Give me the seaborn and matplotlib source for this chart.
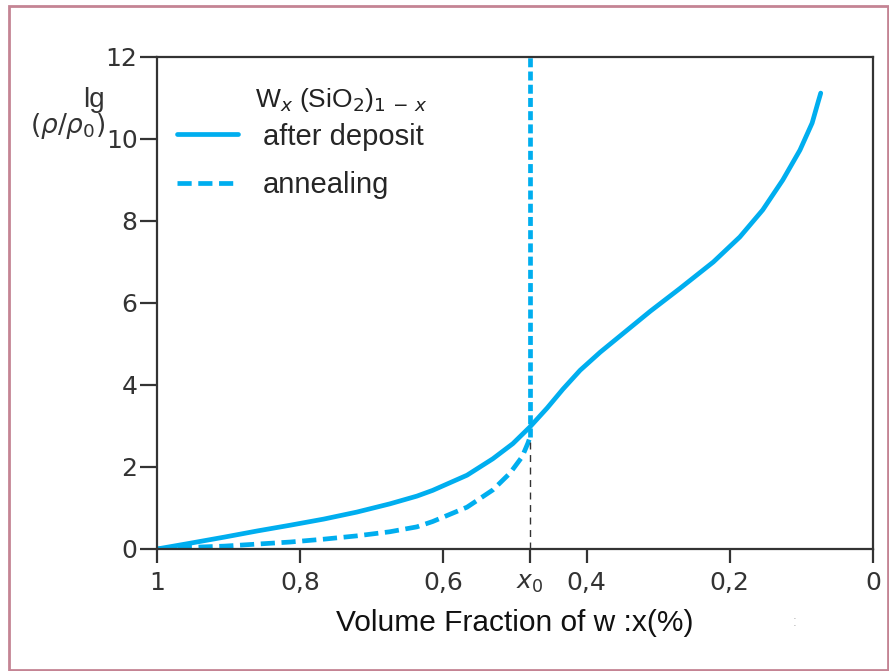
import numpy as np
import pandas as pd
import matplotlib
matplotlib.use("Agg")
import matplotlib.pyplot as plt
from matplotlib.patches import Rectangle
from matplotlib.lines import Line2D
import seaborn as sns

# ---- data ----
x_deposit = [1.0, 0.954, 0.906, 0.860, 0.814, 0.767, 0.721, 0.675, 0.637, 0.615, 0.567,
             0.531, 0.503, 0.479, 0.455, 0.433, 0.409, 0.381, 0.353, 0.325, 0.311,
             0.270, 0.223, 0.186, 0.154, 0.126, 0.102, 0.085, 0.077, 0.073]
y_deposit = [0.0, 0.14, 0.29, 0.44, 0.58, 0.73, 0.90, 1.10, 1.29, 1.43, 1.80,
             2.20, 2.57, 2.98, 3.44, 3.90, 4.36, 4.80, 5.20, 5.60, 5.80,
             6.35, 7.00, 7.61, 8.27, 9.00, 9.73, 10.39, 10.88, 11.12]
x_anneal = [1.0, 0.954, 0.906, 0.860, 0.814, 0.767, 0.721, 0.675, 0.637, 0.615, 0.567,
            0.531, 0.507, 0.490, 0.482, 0.479]
y_anneal = [0.0, 0.04, 0.07, 0.12, 0.17, 0.24, 0.32, 0.42, 0.54, 0.67, 1.02,
            1.44, 1.85, 2.25, 2.58, 2.73]
x0 = 0.479
x_ticks = [1.0, 0.8, 0.6, x0, 0.4, 0.2, 0.0]
x_ticklabels = ["1", "0,8", "0,6", r"$x_0$", "0,4", "0,2", "0"]
y_ticks = [0, 2, 4, 6, 8, 10, 12]
labels = ["after deposit", "annealing"]

sns.set_style("ticks")
plt.rcParams["font.family"] = ["Liberation Sans", "DejaVu Sans"]
plt.rcParams["mathtext.fontset"] = "custom"
plt.rcParams["mathtext.rm"] = "DejaVu Sans"
plt.rcParams["mathtext.it"] = "DejaVu Sans:italic"

color = "#00aeef"
lw = 3.4
fig = plt.figure(figsize=(8.89, 6.71), dpi=100)
ax = fig.add_axes([157/889, 1-549/671, (873-157)/889, (549-57)/671])

df1 = pd.DataFrame({"x": x_deposit, "y": y_deposit})
df2 = pd.DataFrame({"x": x_anneal, "y": y_anneal})
sns.lineplot(data=df1, x="x", y="y", ax=ax, color=color, lw=lw, sort=False)
sns.lineplot(data=df2, x="x", y="y", ax=ax, color=color, lw=lw, sort=False,
             dashes=False, linestyle=(0, (3.0, 1.4)))
ax.vlines(x0, y_anneal[-1], 12, color=color, lw=lw, linestyles=[(0, (1.9, 0.9))])
ax.vlines(x0, 0, y_anneal[-1], color="#333333", lw=1.0, linestyles=[(0, (5, 4))])

ax.set_xlim(1, 0)
ax.set_ylim(0, 12)
ax.set_xticks(x_ticks)
ax.set_xticklabels(x_ticklabels)
ax.set_yticks(y_ticks)
for s in ax.spines.values():
    s.set_color("#333333")
    s.set_linewidth(1.6)
ax.tick_params(axis="both", direction="out", width=1.6, color="#333333",
               labelsize=18, labelcolor="#333333")
ax.tick_params(axis="x", length=10, pad=6)
ax.tick_params(axis="y", length=12, pad=2)
for t in ax.get_xticklabels() + ax.get_yticklabels():
    t.set_fontfamily("DejaVu Sans")
ax.set_xlabel("Volume Fraction of w :x(%)", fontsize=21.5, color="#111111", labelpad=10)
ax.set_ylabel("")

# legend
handles = [Line2D([], [], color=color, lw=lw),
           Line2D([], [], color=color, lw=lw, linestyle=(0, (3.0, 1.4)))]
leg = ax.legend(handles, labels, loc="upper left", bbox_to_anchor=(-0.009, 0.92),
                frameon=False, fontsize=21, handlelength=2.1, handletextpad=0.85,
                labelspacing=0.7, borderaxespad=0.5)
ax.text(0.137, 0.885, r"W$_{\mathit{x}}$ (SiO$_2$)$_{1\,-\,\mathit{x}}$", transform=ax.transAxes,
        fontsize=19, ha="left", va="bottom", color="#222222")

# y label
fig.text(94/889, 1-100/671, "lg", fontsize=20, ha="center", va="center", color="#333333")
fig.text(30/889, 1-126/671, r"$(\mathit{\rho}/\mathit{\rho}_0)$", fontsize=19, ha="left",
         va="center", color="#333333")
fig.text(795/889, 1-622/671, ":", fontsize=10, color="#bbbbbb", ha="center", va="center")

# frame
fig.patches.append(Rectangle((9/889, 1/671), 879/889, 664/671, transform=fig.transFigure,
                             fill=False, edgecolor="#c48494", lw=2.0))

fig.savefig("out.png", dpi=100)
